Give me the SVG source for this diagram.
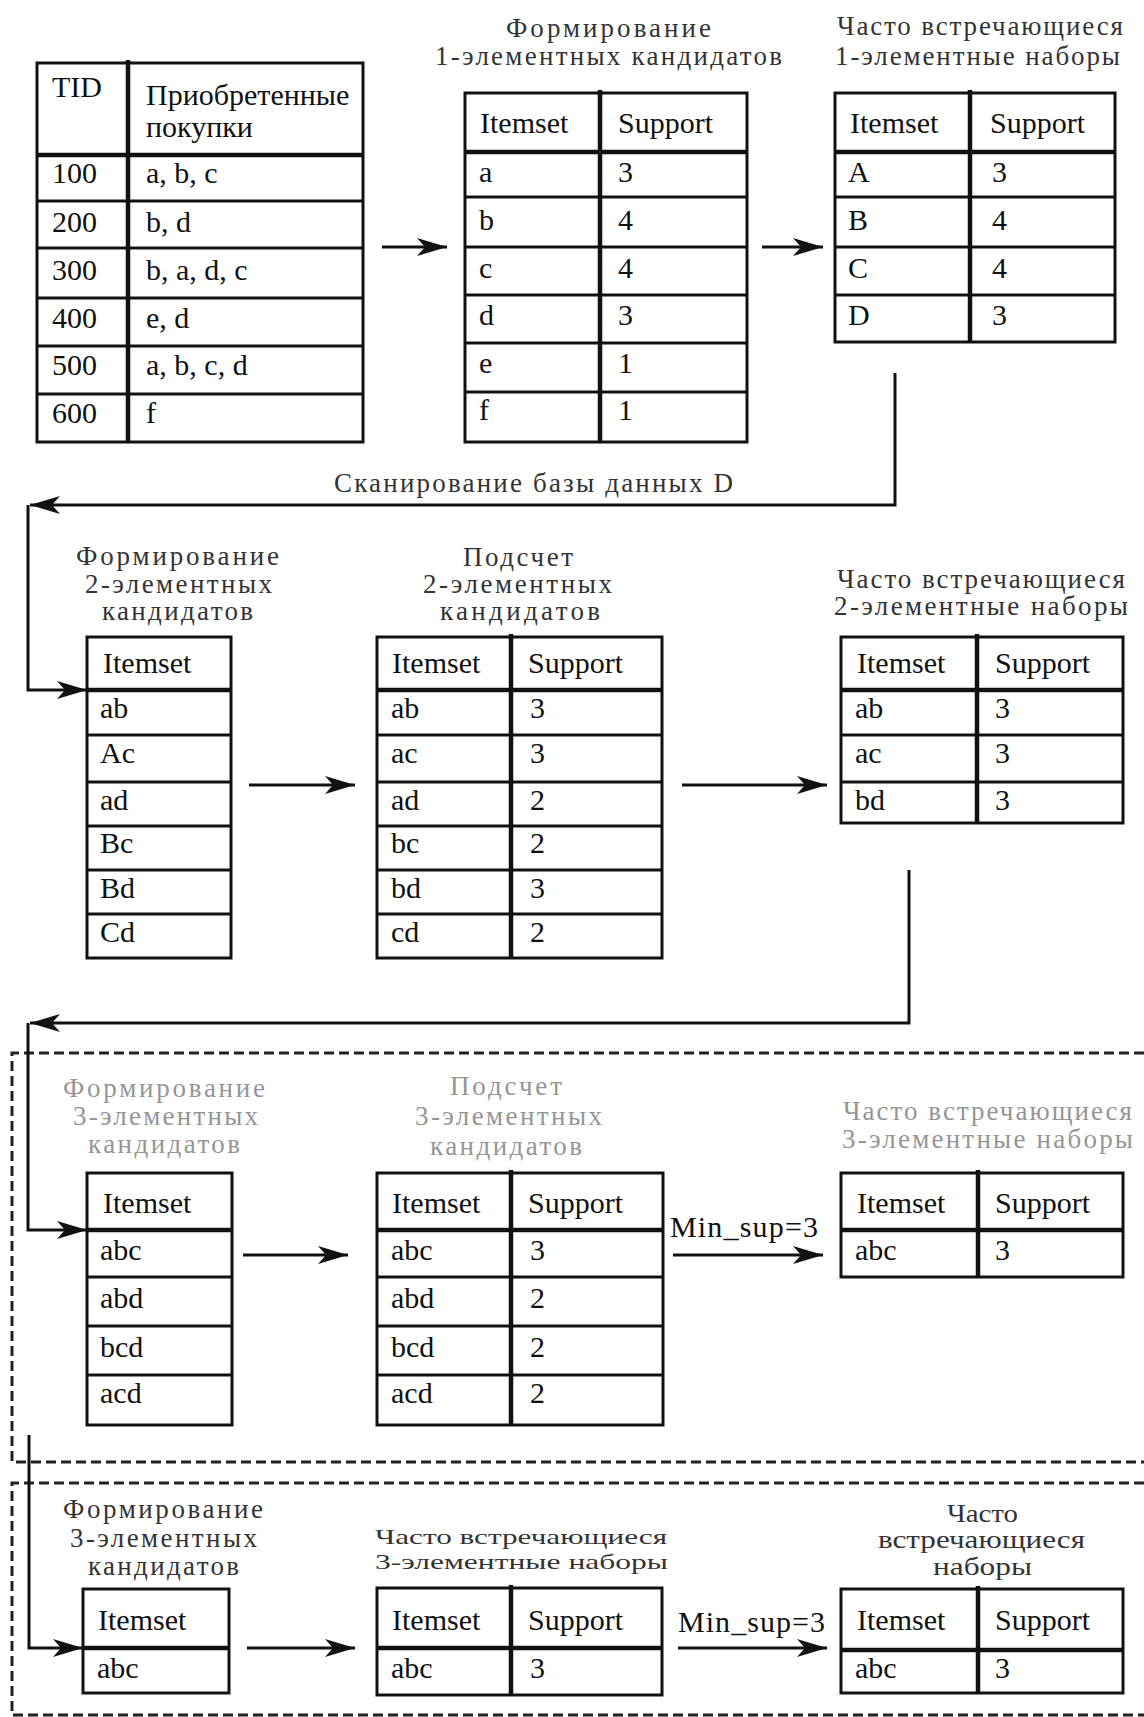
<svg xmlns="http://www.w3.org/2000/svg" width="1144" height="1717" viewBox="0 0 1144 1717">
<defs>
<marker id="ah" markerUnits="userSpaceOnUse" markerWidth="30" markerHeight="18" refX="30" refY="9" orient="auto" viewBox="0 0 30 18">
<path d="M0,0 L30,9 L0,18 L8,9 Z" fill="#111"/>
</marker>
</defs>
<style>
.box{fill:#fff;stroke:#111;stroke-width:3}
.rl{stroke:#111;stroke-width:3}
.hl{stroke:#111;stroke-width:4.5}
.cd{stroke:#111;stroke-width:4.5}
.c{font-family:"Liberation Serif","DejaVu Serif",serif;font-size:30px;fill:#111}
.t{font-family:"Liberation Serif","DejaVu Serif",serif;font-size:27px;fill:#333}
.s{font-size:21px}
.m{font-size:25px}
.g{fill:#959595}
.conn{fill:none;stroke:#111;stroke-width:3}
.dash{fill:none;stroke:#222;stroke-width:3;stroke-dasharray:10 5}
</style>
<rect width="1144" height="1717" fill="#fff"/>

<g id="dashed-frames">
<path class="dash" d="M1144,1053 H12 V1462 H1144"/>
<path class="dash" d="M1144,1483 H12 V1715 H1144"/>
</g>

<g id="connectors">
<line class="conn" x1="382" y1="247" x2="447" y2="247" marker-end="url(#ah)"/>
<line class="conn" x1="762" y1="247" x2="823" y2="247" marker-end="url(#ah)"/>
<path class="conn" d="M895,373 V505 H30" marker-end="url(#ah)"/>
<path class="conn" d="M28,505 V690 H87" marker-end="url(#ah)"/>
<text class="t" x="334" y="492" textLength="399">Сканирование базы данных D</text>
<line class="conn" x1="249" y1="785" x2="355" y2="785" marker-end="url(#ah)"/>
<line class="conn" x1="682" y1="785" x2="827" y2="785" marker-end="url(#ah)"/>
<path class="conn" d="M909,870 V1023 H30" marker-end="url(#ah)"/>
<path class="conn" d="M28,1023 V1230 H87" marker-end="url(#ah)"/>
<line class="conn" x1="243" y1="1255" x2="348" y2="1255" marker-end="url(#ah)"/>
<text class="c" x="670" y="1237" textLength="148">Min_sup=3</text>
<line class="conn" x1="673" y1="1255" x2="823" y2="1255" marker-end="url(#ah)"/>
<path class="conn" d="M29,1435 V1648 H83" marker-end="url(#ah)"/>
<line class="conn" x1="247" y1="1648" x2="355" y2="1648" marker-end="url(#ah)"/>
<text class="c" x="678" y="1632" textLength="147">Min_sup=3</text>
<line class="conn" x1="678" y1="1648" x2="827" y2="1648" marker-end="url(#ah)"/>
</g>

<g id="db-table">
<rect class="box" x="37" y="63" width="326" height="379"/>
<line class="hl" x1="37" y1="155" x2="363" y2="155"/>
<line class="rl" x1="37" y1="201" x2="363" y2="201"/>
<line class="rl" x1="37" y1="248" x2="363" y2="248"/>
<line class="rl" x1="37" y1="298" x2="363" y2="298"/>
<line class="rl" x1="37" y1="346" x2="363" y2="346"/>
<line class="rl" x1="37" y1="394" x2="363" y2="394"/>
<line class="cd" x1="128" y1="60" x2="128" y2="442"/>
<text class="c" x="52" y="97">TID</text>
<text class="c" x="146" y="105">Приобретенные</text>
<text class="c" x="146" y="137">покупки</text>
<text class="c" x="52" y="183">100</text><text class="c" x="146" y="183">a, b, c</text>
<text class="c" x="52" y="232">200</text><text class="c" x="146" y="232">b, d</text>
<text class="c" x="52" y="280">300</text><text class="c" x="146" y="280">b, a, d, c</text>
<text class="c" x="52" y="328">400</text><text class="c" x="146" y="328">e, d</text>
<text class="c" x="52" y="375">500</text><text class="c" x="146" y="375">a, b, c, d</text>
<text class="c" x="52" y="423">600</text><text class="c" x="146" y="423">f</text>
</g>

<g id="c1">
<text class="t" x="506" y="37" textLength="205">Формирование</text>
<text class="t" x="435" y="65" textLength="347">1-элементных кандидатов</text>
<rect class="box" x="465" y="93" width="282" height="349"/>
<line class="hl" x1="465" y1="152" x2="747" y2="152"/>
<line class="rl" x1="465" y1="197" x2="747" y2="197"/>
<line class="rl" x1="465" y1="247" x2="747" y2="247"/>
<line class="rl" x1="465" y1="295" x2="747" y2="295"/>
<line class="rl" x1="465" y1="343" x2="747" y2="343"/>
<line class="rl" x1="465" y1="392" x2="747" y2="392"/>
<line class="cd" x1="600" y1="90" x2="600" y2="442"/>
<text class="c" x="480" y="133">Itemset</text><text class="c" x="618" y="133">Support</text>
<text class="c" x="479" y="182">a</text><text class="c" x="618" y="182">3</text>
<text class="c" x="479" y="230">b</text><text class="c" x="618" y="230">4</text>
<text class="c" x="479" y="278">c</text><text class="c" x="618" y="278">4</text>
<text class="c" x="479" y="325">d</text><text class="c" x="618" y="325">3</text>
<text class="c" x="479" y="373">e</text><text class="c" x="618" y="373">1</text>
<text class="c" x="479" y="420">f</text><text class="c" x="618" y="420">1</text>
</g>

<g id="l1">
<text class="t" x="837" y="35" textLength="286">Часто встречающиеся</text>
<text class="t" x="835" y="65" textLength="285">1-элементные наборы</text>
<rect class="box" x="835" y="93" width="280" height="249"/>
<line class="hl" x1="835" y1="152" x2="1115" y2="152"/>
<line class="rl" x1="835" y1="197" x2="1115" y2="197"/>
<line class="rl" x1="835" y1="247" x2="1115" y2="247"/>
<line class="rl" x1="835" y1="295" x2="1115" y2="295"/>
<line class="cd" x1="970" y1="90" x2="970" y2="342"/>
<text class="c" x="850" y="133">Itemset</text><text class="c" x="990" y="133">Support</text>
<text class="c" x="848" y="182">A</text><text class="c" x="992" y="182">3</text>
<text class="c" x="848" y="230">B</text><text class="c" x="992" y="230">4</text>
<text class="c" x="848" y="278">C</text><text class="c" x="992" y="278">4</text>
<text class="c" x="848" y="325">D</text><text class="c" x="992" y="325">3</text>
</g>

<g id="c2">
<text class="t" x="76" y="565" textLength="203">Формирование</text>
<text class="t" x="85" y="593" textLength="187">2-элементных</text>
<text class="t" x="102" y="620" textLength="151">кандидатов</text>
<rect class="box" x="87" y="637" width="144" height="321"/>
<line class="hl" x1="87" y1="690" x2="231" y2="690"/>
<line class="rl" x1="87" y1="735" x2="231" y2="735"/>
<line class="rl" x1="87" y1="782" x2="231" y2="782"/>
<line class="rl" x1="87" y1="826" x2="231" y2="826"/>
<line class="rl" x1="87" y1="870" x2="231" y2="870"/>
<line class="rl" x1="87" y1="914" x2="231" y2="914"/>
<text class="c" x="103" y="673">Itemset</text>
<text class="c" x="100" y="718">ab</text>
<text class="c" x="100" y="763">Ac</text>
<text class="c" x="100" y="810">ad</text>
<text class="c" x="100" y="853">Bc</text>
<text class="c" x="100" y="898">Bd</text>
<text class="c" x="100" y="942">Cd</text>
</g>

<g id="s2">
<text class="t" x="463" y="566" textLength="110">Подсчет</text>
<text class="t" x="423" y="593" textLength="189">2-элементных</text>
<text class="t" x="440" y="620" textLength="160">кандидатов</text>
<rect class="box" x="377" y="637" width="285" height="321"/>
<line class="hl" x1="377" y1="690" x2="662" y2="690"/>
<line class="rl" x1="377" y1="735" x2="662" y2="735"/>
<line class="rl" x1="377" y1="782" x2="662" y2="782"/>
<line class="rl" x1="377" y1="826" x2="662" y2="826"/>
<line class="rl" x1="377" y1="870" x2="662" y2="870"/>
<line class="rl" x1="377" y1="914" x2="662" y2="914"/>
<line class="cd" x1="511" y1="634" x2="511" y2="958"/>
<text class="c" x="392" y="673">Itemset</text><text class="c" x="528" y="673">Support</text>
<text class="c" x="391" y="718">ab</text><text class="c" x="530" y="718">3</text>
<text class="c" x="391" y="763">ac</text><text class="c" x="530" y="763">3</text>
<text class="c" x="391" y="810">ad</text><text class="c" x="530" y="810">2</text>
<text class="c" x="391" y="853">bc</text><text class="c" x="530" y="853">2</text>
<text class="c" x="391" y="898">bd</text><text class="c" x="530" y="898">3</text>
<text class="c" x="391" y="942">cd</text><text class="c" x="530" y="942">2</text>
</g>

<g id="l2">
<text class="t" x="837" y="588" textLength="288">Часто встречающиеся</text>
<text class="t" x="834" y="615" textLength="294">2-элементные наборы</text>
<rect class="box" x="841" y="637" width="282" height="186"/>
<line class="hl" x1="841" y1="690" x2="1123" y2="690"/>
<line class="rl" x1="841" y1="735" x2="1123" y2="735"/>
<line class="rl" x1="841" y1="782" x2="1123" y2="782"/>
<line class="cd" x1="977" y1="634" x2="977" y2="823"/>
<text class="c" x="857" y="673">Itemset</text><text class="c" x="995" y="673">Support</text>
<text class="c" x="855" y="718">ab</text><text class="c" x="995" y="718">3</text>
<text class="c" x="855" y="763">ac</text><text class="c" x="995" y="763">3</text>
<text class="c" x="855" y="810">bd</text><text class="c" x="995" y="810">3</text>
</g>

<g id="c3">
<text class="t g" x="63" y="1097" textLength="202">Формирование</text>
<text class="t g" x="73" y="1125" textLength="185">3-элементных</text>
<text class="t g" x="88" y="1153" textLength="152">кандидатов</text>
<rect class="box" x="87" y="1173" width="145" height="252"/>
<line class="hl" x1="87" y1="1230" x2="232" y2="1230"/>
<line class="rl" x1="87" y1="1277" x2="232" y2="1277"/>
<line class="rl" x1="87" y1="1326" x2="232" y2="1326"/>
<line class="rl" x1="87" y1="1375" x2="232" y2="1375"/>
<text class="c" x="103" y="1213">Itemset</text>
<text class="c" x="100" y="1260">abc</text>
<text class="c" x="100" y="1308">abd</text>
<text class="c" x="100" y="1357">bcd</text>
<text class="c" x="100" y="1403">acd</text>
</g>

<g id="s3">
<text class="t g" x="450" y="1095" textLength="112">Подсчет</text>
<text class="t g" x="415" y="1125" textLength="187">3-элементных</text>
<text class="t g" x="430" y="1155" textLength="152">кандидатов</text>
<rect class="box" x="377" y="1173" width="286" height="252"/>
<line class="hl" x1="377" y1="1230" x2="663" y2="1230"/>
<line class="rl" x1="377" y1="1277" x2="663" y2="1277"/>
<line class="rl" x1="377" y1="1326" x2="663" y2="1326"/>
<line class="rl" x1="377" y1="1375" x2="663" y2="1375"/>
<line class="cd" x1="511" y1="1170" x2="511" y2="1425"/>
<text class="c" x="392" y="1213">Itemset</text><text class="c" x="528" y="1213">Support</text>
<text class="c" x="391" y="1260">abc</text><text class="c" x="530" y="1260">3</text>
<text class="c" x="391" y="1308">abd</text><text class="c" x="530" y="1308">2</text>
<text class="c" x="391" y="1357">bcd</text><text class="c" x="530" y="1357">2</text>
<text class="c" x="391" y="1403">acd</text><text class="c" x="530" y="1403">2</text>
</g>

<g id="l3">
<text class="t g" x="843" y="1120" textLength="289">Часто встречающиеся</text>
<text class="t g" x="842" y="1148" textLength="291">3-элементные наборы</text>
<rect class="box" x="841" y="1173" width="282" height="104"/>
<line class="hl" x1="841" y1="1230" x2="1123" y2="1230"/>
<line class="cd" x1="978" y1="1170" x2="978" y2="1277"/>
<text class="c" x="857" y="1213">Itemset</text><text class="c" x="995" y="1213">Support</text>
<text class="c" x="855" y="1260">abc</text><text class="c" x="995" y="1260">3</text>
</g>

<g id="c4">
<text class="t" x="63" y="1518" textLength="200">Формирование</text>
<text class="t" x="70" y="1547" textLength="187">3-элементных</text>
<text class="t" x="88" y="1575" textLength="151">кандидатов</text>
<rect class="box" x="83" y="1589" width="146" height="104"/>
<line class="hl" x1="83" y1="1648" x2="229" y2="1648"/>
<text class="c" x="98" y="1630">Itemset</text>
<text class="c" x="97" y="1678">abc</text>
</g>

<g id="l4">
<text class="t s" x="375" y="1544" textLength="292" lengthAdjust="spacingAndGlyphs">Часто встречающиеся</text>
<text class="t s" x="375" y="1569" textLength="293" lengthAdjust="spacingAndGlyphs">3-элементные наборы</text>
<rect class="box" x="377" y="1588" width="285" height="107"/>
<line class="hl" x1="377" y1="1648" x2="662" y2="1648"/>
<line class="cd" x1="511" y1="1585" x2="511" y2="1695"/>
<text class="c" x="392" y="1630">Itemset</text><text class="c" x="528" y="1630">Support</text>
<text class="c" x="391" y="1678">abc</text><text class="c" x="530" y="1678">3</text>
</g>

<g id="result">
<text class="t m" x="947" y="1522" textLength="71" lengthAdjust="spacingAndGlyphs">Часто</text>
<text class="t m" x="878" y="1548" textLength="207" lengthAdjust="spacingAndGlyphs">встречающиеся</text>
<text class="t m" x="933" y="1575" textLength="99" lengthAdjust="spacingAndGlyphs">наборы</text>
<rect class="box" x="841" y="1589" width="282" height="104"/>
<line class="hl" x1="841" y1="1650" x2="1123" y2="1650"/>
<line class="cd" x1="978" y1="1586" x2="978" y2="1693"/>
<text class="c" x="857" y="1630">Itemset</text><text class="c" x="995" y="1630">Support</text>
<text class="c" x="855" y="1678">abc</text><text class="c" x="995" y="1678">3</text>
</g>
</svg>
